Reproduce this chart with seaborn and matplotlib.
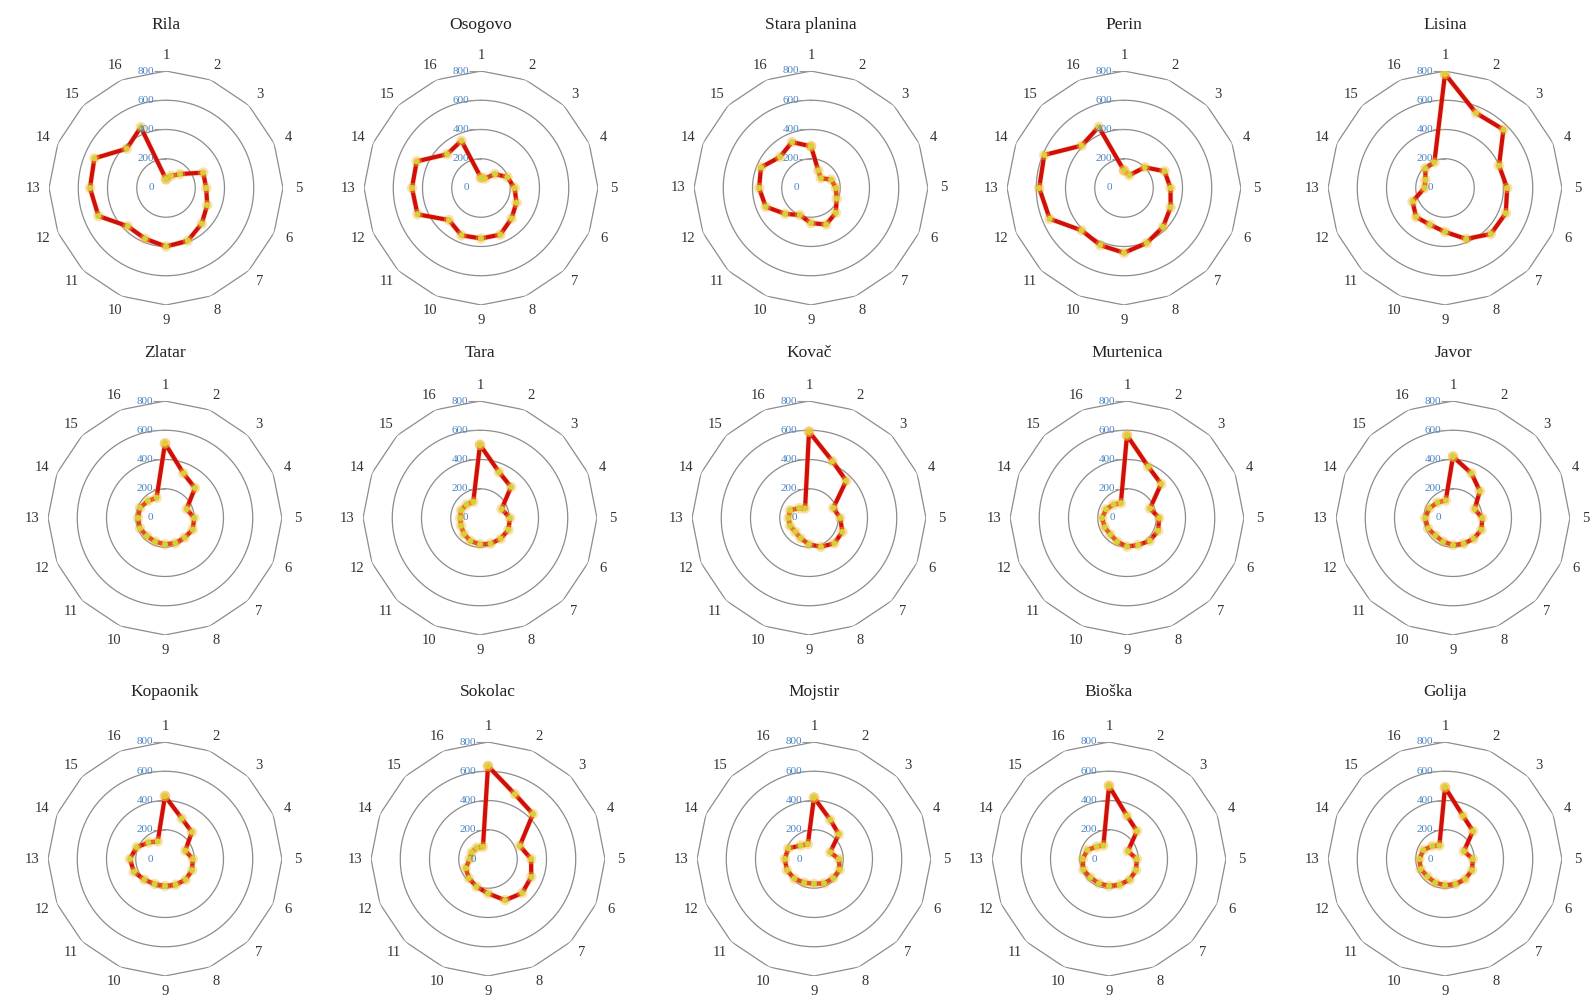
import numpy as np
import pandas as pd
import matplotlib
matplotlib.use("Agg")
import matplotlib.pyplot as plt
import matplotlib.transforms as mtransforms
import matplotlib.patheffects as pe
import seaborn as sns

# ---- data -----------------------------------------------------------------
sites = ["Rila", "Osogovo", "Stara planina", "Perin", "Lisina",
         "Zlatar", "Tara", "Kovač", "Murtenica", "Javor",
         "Kopaonik", "Sokolac", "Mojstir", "Bioška", "Golija"]
axis_labels = [str(i) for i in range(1, 17)]
ring_values = [0, 200, 400, 600, 800]

rila = [60, 90, 135, 275, 275, 305, 345, 390, 400, 375, 370, 500, 520, 530, 380, 450]
osogovo = [70, 70, 135, 195, 230, 262, 295, 345, 345, 350, 310, 470, 472, 476, 327, 350]
stara_planina = [285, 130, 95, 150, 170, 190, 240, 270, 240, 200, 250, 335, 355, 370, 300, 340]
perin = [120, 95, 200, 300, 318, 345, 377, 407, 443, 423, 410, 550, 580, 590, 410, 452]
lisina = [780, 555, 565, 400, 425, 450, 444, 377, 300, 271, 280, 240, 140, 145, 190, 190]
zlatar = [510, 330, 290, 160, 200, 205, 190, 185, 180, 175, 175, 185, 185, 185, 165, 150]
tara = [500, 340, 300, 160, 205, 210, 200, 190, 180, 170, 155, 140, 135, 140, 130, 120]
kovac = [590, 420, 360, 180, 213, 247, 245, 213, 180, 150, 133, 140, 140, 140, 95, 70]
murtenica = [565, 380, 330, 170, 220, 230, 220, 200, 195, 175, 160, 165, 170, 155, 130, 110]
javor = [420, 330, 260, 160, 200, 210, 200, 190, 185, 175, 170, 185, 190, 175, 150, 130]
kopaonik = [430, 300, 260, 150, 190, 200, 200, 190, 185, 185, 200, 230, 240, 210, 160, 130]
sokolac = [635, 480, 435, 235, 295, 320, 330, 305, 235, 205, 185, 165, 125, 120, 110, 90]
mojstir = [420, 290, 240, 120, 170, 190, 185, 180, 170, 175, 190, 200, 200, 190, 130, 110]
bioska = [500, 320, 270, 140, 190, 200, 200, 190, 185, 180, 180, 190, 180, 160, 120, 100]
golija = [490, 320, 270, 140, 190, 200, 195, 185, 180, 175, 170, 180, 175, 160, 125, 100]

series = [rila, osogovo, stara_planina, perin, lisina,
          zlatar, tara, kovac, murtenica, javor,
          kopaonik, sokolac, mojstir, bioska, golija]

# ---- layout (pixel centres of each panel) -----------------------------------
W, H, DPI = 1595, 997, 100
col_x = [[166, 481, 811, 1124, 1445],
         [165, 480, 809, 1127, 1453],
         [165, 488, 814, 1109, 1445]]
row_y = [188, 518, 859]
title_y = [25, 353, 692]
R = 117  # pixel radius of the 800 ring

sns.set_theme(style="white")
plt.rcParams["font.family"] = ["Liberation Serif", "DejaVu Serif"]

fig = plt.figure(figsize=(W / DPI, H / DPI), dpi=DPI)
fig.patch.set_facecolor("white")

n = len(axis_labels)
theta = np.arange(n) * 2 * np.pi / n
circle_t = np.linspace(0, 2 * np.pi, 361)
rmax = ring_values[-1]
tick_marker = [(-1, 0), (0, 0)]  # short stub drawn to the left of the point

for i, (name, vals) in enumerate(zip(sites, series)):
    row, col = divmod(i, 5)
    cx, cy = col_x[row][col], row_y[row]
    ax = fig.add_axes([(cx - R) / W, 1 - (cy + R) / H, 2 * R / W, 2 * R / H],
                      projection="polar")
    ax.set_theta_zero_location("N")
    ax.set_theta_direction(-1)
    ax.grid(False)
    ax.spines["polar"].set_visible(False)
    ax.set_facecolor("none")

    # circular rings and outer polygon
    for rv in ring_values[1:-1]:
        ax.plot(circle_t, np.full_like(circle_t, rv), color="#8c8c8c", lw=0.9, zorder=1)
    ax.plot(np.append(theta, theta[0]), np.full(n + 1, rmax), color="#8c8c8c", lw=0.9, zorder=1)

    # data polygon
    df = pd.DataFrame({"theta": np.append(theta, theta[0]),
                       "value": np.append(vals, vals[0])})
    sns.lineplot(data=df, x="theta", y="value", sort=False, estimator=None, ax=ax,
                 color="#d10d0d", lw=3.0, marker="o", markersize=3.6,
                 markerfacecolor="#c2d845", markeredgecolor="#f2c526",
                 markeredgewidth=0.7, zorder=3,
                 path_effects=[pe.Stroke(linewidth=4.0, foreground="#f3b640", alpha=0.4),
                               pe.Normal()])
    ax.set_xlabel("")
    ax.set_ylabel("")
    ax.set_xticks([])
    ax.set_yticks([])
    ax.set_ylim(0, rmax)

    # spoke labels
    for t, lab in zip(theta, axis_labels):
        ax.text(t, rmax * 1.135, lab, ha="center", va="center", fontsize=10.5,
                color="#333333", clip_on=False)

    # ring value labels with short ticks along the first spoke
    ax.plot(np.zeros(len(ring_values) - 1), ring_values[1:], linestyle="none",
            marker=tick_marker, markersize=18, markeredgewidth=0.8,
            markeredgecolor="#9a9a9a", zorder=2, clip_on=False)
    off = mtransforms.offset_copy(ax.transData, fig=fig, x=-12, y=0, units="dots")
    for rv in ring_values:
        ax.text(0, rv, str(rv), transform=off, ha="right", va="center",
                fontsize=8, color="#4a84c4", clip_on=False, zorder=4)

    fig.text(cx / W, 1 - title_y[row] / H, name, ha="center", va="center",
             fontsize=12.5, color="#222222")

fig.savefig("out.png", dpi=DPI, facecolor="white")
